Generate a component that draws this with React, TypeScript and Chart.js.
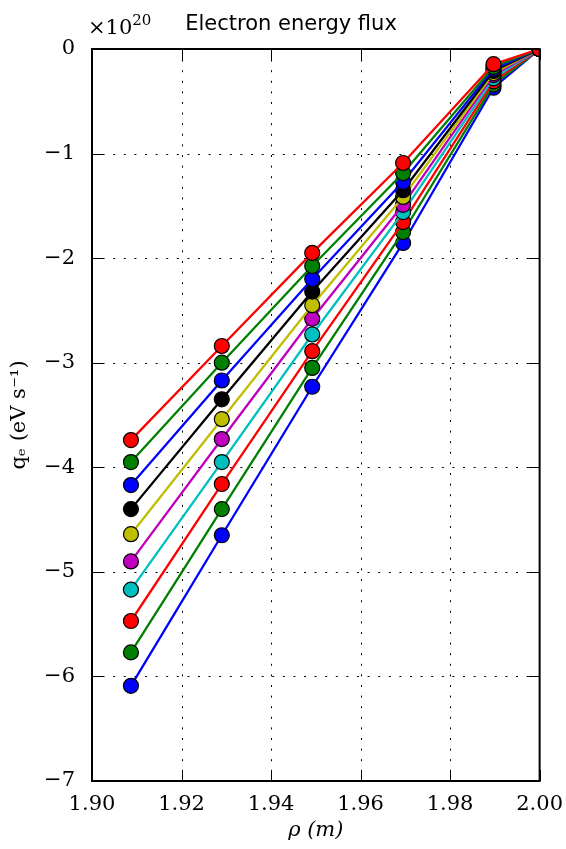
import React, { useEffect, useRef } from "react";
import { Chart, registerables } from "chart.js";

Chart.register(...registerables);

const TITLE = "Electron energy flux";
const X_LABEL = "ρ (m)";
const Y_LABEL = "qₑ (eV s⁻¹)";
const X_VALUES = [1.9087, 1.929, 1.9492, 1.9695, 1.9897, 2.0];
const X_TICKS = [1.9, 1.92, 1.94, 1.96, 1.98, 2.0];
const Y_TICKS = [-7, -6, -5, -4, -3, -2, -1, 0];
const COLORS = ["#0000ff", "#008000", "#ff0000", "#00bfbf", "#bf00bf", "#bfbf00", "#000000", "#0000ff", "#008000", "#ff0000"];

// values in units of 1e20 eV/s
const S0 = [-6.09, -4.65, -3.23, -1.855, -0.37, 0];
const S1 = [-5.77, -4.4, -3.05, -1.75, -0.34, 0];
const S2 = [-5.47, -4.16, -2.89, -1.655, -0.31, 0];
const S3 = [-5.17, -3.95, -2.73, -1.56, -0.28, 0];
const S4 = [-4.9, -3.73, -2.58, -1.49, -0.25, 0];
const S5 = [-4.64, -3.54, -2.45, -1.415, -0.23, 0];
const S6 = [-4.4, -3.35, -2.32, -1.35, -0.21, 0];
const S7 = [-4.17, -3.17, -2.2, -1.27, -0.19, 0];
const S8 = [-3.95, -3.0, -2.075, -1.186, -0.17, 0];
const S9 = [-3.74, -2.84, -1.95, -1.09, -0.145, 0];
const SERIES = [S0, S1, S2, S3, S4, S5, S6, S7, S8, S9];

const SERIF = "'DejaVu Serif', serif";

const framePlugin = {
  id: "frame",
  beforeDatasetsDraw(chart: any) {
    const { ctx, chartArea: a, scales } = chart;
    ctx.save();
    ctx.strokeStyle = "#000";
    ctx.lineWidth = 1;
    ctx.setLineDash([2, 8.6]);
    for (const v of X_TICKS.slice(1, -1)) {
      const x = Math.round(scales.x.getPixelForValue(v)) + 0.5;
      ctx.beginPath();
      ctx.moveTo(x, a.top);
      ctx.lineTo(x, a.bottom);
      ctx.stroke();
    }
    for (const v of Y_TICKS.slice(1, -1)) {
      const y = Math.round(scales.y.getPixelForValue(v)) + 0.5;
      ctx.beginPath();
      ctx.moveTo(a.left, y);
      ctx.lineTo(a.right, y);
      ctx.stroke();
    }
    ctx.restore();
  },
  afterDraw(chart: any) {
    const { ctx, chartArea: a, scales } = chart;
    ctx.save();
    ctx.strokeStyle = "#000";
    ctx.lineWidth = 1;
    const L = 11;
    for (const v of X_TICKS) {
      const x = Math.round(scales.x.getPixelForValue(v)) + 0.5;
      ctx.beginPath();
      ctx.moveTo(x, a.bottom);
      ctx.lineTo(x, a.bottom - L);
      ctx.moveTo(x, a.top);
      ctx.lineTo(x, a.top + L);
      ctx.stroke();
    }
    for (const v of Y_TICKS) {
      const y = Math.round(scales.y.getPixelForValue(v)) + 0.5;
      ctx.beginPath();
      ctx.moveTo(a.left, y);
      ctx.lineTo(a.left + L, y);
      ctx.moveTo(a.right, y);
      ctx.lineTo(a.right - L, y);
      ctx.stroke();
    }
    ctx.lineWidth = 2;
    ctx.strokeRect(a.left, a.top, a.right - a.left, a.bottom - a.top);

    ctx.fillStyle = "#000";
    ctx.textAlign = "center";
    ctx.textBaseline = "alphabetic";
    ctx.font = "21px 'DejaVu Sans', sans-serif";
    ctx.fillText(TITLE, 291, 30);

    ctx.textAlign = "left";
    ctx.font = "21px " + SERIF;
    ctx.fillText("×10", 88, 34);
    const w = ctx.measureText("×10").width;
    ctx.font = "15px " + SERIF;
    ctx.fillText("20", 88 + w, 25);
    ctx.restore();
  },
};

export default function App() {
  const ref = useRef<HTMLCanvasElement>(null);
  useEffect(() => {
    const datasets = SERIES.map((s, i) => ({
      label: "s" + i,
      data: s.map((y, j) => ({ x: X_VALUES[j], y })),
      borderColor: COLORS[i],
      backgroundColor: COLORS[i],
      pointBackgroundColor: COLORS[i],
      pointBorderColor: "#000",
      pointBorderWidth: 1.2,
      pointRadius: 7.5,
      borderWidth: 2.3,
      tension: 0,
      order: SERIES.length - 1 - i,
    }));
    const chart = new Chart(ref.current!, {
      type: "line",
      data: { datasets },
      options: {
        animation: false,
        responsive: false,
        layout: { padding: { top: 49, right: 25, left: 0, bottom: 0 } },
        plugins: { legend: { display: false }, tooltip: { enabled: false }, title: { display: false } },
        scales: {
          x: {
            type: "linear",
            min: 1.9,
            max: 2.0,
            afterFit: (s: any) => { s.height = 68; },
            afterBuildTicks: (s: any) => { s.ticks = X_TICKS.map((v) => ({ value: v })); },
            ticks: {
              color: "#000",
              font: { family: SERIF, size: 21 },
              padding: 3,
              maxRotation: 0,
              callback: (v: any) => Number(v).toFixed(2),
            },
            grid: { display: false },
            border: { display: false },
            title: { display: true, text: X_LABEL, color: "#000", font: { family: SERIF, size: 21, style: "italic" }, padding: { top: 0, bottom: 6 } },
          },
          y: {
            type: "linear",
            min: -7,
            max: 0,
            afterFit: (s: any) => { s.width = 92; },
            afterBuildTicks: (s: any) => { s.ticks = Y_TICKS.map((v) => ({ value: v })); },
            ticks: {
              color: "#000",
              font: { family: SERIF, size: 21 },
              padding: 9,
              callback: (v: any) => (v === 0 ? "0" : "−" + Math.abs(v)),
            },
            grid: { display: false },
            border: { display: false },
            title: { display: true, text: Y_LABEL, color: "#000", font: { family: SERIF, size: 21 }, padding: { top: 7, bottom: 0 } },
          },
        },
      },
      plugins: [framePlugin],
    } as any);
    return () => chart.destroy();
  }, []);
  return (
    <div style={{ position: "absolute", left: 0, top: 0, width: 566, height: 849, background: "#fff" }}>
      <canvas ref={ref} width={566} height={849} />
    </div>
  );
}
